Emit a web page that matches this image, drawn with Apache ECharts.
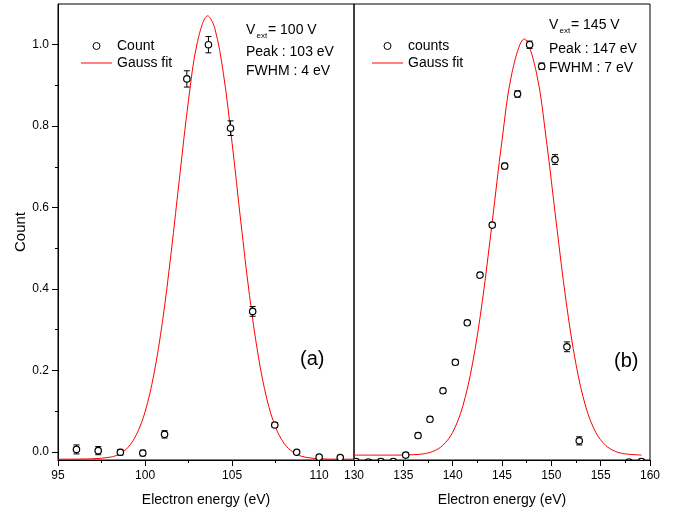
<!DOCTYPE html>
<html>
<head>
<meta charset="utf-8">
<script src="https://cdn.jsdelivr.net/npm/echarts@6/dist/echarts.min.js"></script>
<style>
  html, body { margin: 0; padding: 0; background: #fff; }
  #chart { width: 684px; height: 512px; }
</style>
</head>
<body>
<div id="chart"></div>
<script>
// Panel (a): V_ext = 100 V — measured counts with error bars
const energyA = [96.06, 97.31, 98.58, 99.87, 101.12, 102.40, 103.64, 104.91, 106.18, 107.45, 108.71, 110.00, 111.21];
const countA  = [0.006, 0.003, -0.001, -0.003, 0.043, 0.916, 1.000, 0.795, 0.345, 0.066, -0.001, -0.013, -0.014];
const errA    = [0.011, 0.010, 0.007, 0.007, 0.009, 0.020, 0.020, 0.018, 0.012, 0.006, 0.004, 0.004, 0.004];

// Panel (a): Gauss fit curve
const fitEnergyA = [95, 97, 98, 98.5, 99, 99.5, 100, 100.5, 101, 101.5, 102, 102.5, 103, 103.6, 104, 104.5, 105, 105.5, 106, 106.5, 107, 107.5, 108, 108.5, 109, 109.5, 110, 111, 112];
const fitCountA  = [-0.018, -0.017, -0.013, -0.006, 0.010, 0.042, 0.098, 0.189, 0.320, 0.490, 0.681, 0.865, 1.005, 1.071, 1.041, 0.929, 0.758, 0.565, 0.384, 0.236, 0.129, 0.060, 0.020, -0.001, -0.011, -0.015, -0.017, -0.018, -0.018];

// Panel (b): V_ext = 145 V — measured counts with error bars
const energyB = [130.20, 131.46, 132.72, 133.98, 135.24, 136.49, 137.70, 139.02, 140.27, 141.48, 142.77, 144.01, 145.27, 146.58, 147.80, 149.02, 150.37, 151.58, 152.83, 157.87, 159.13];
const countB  = [-0.024, -0.025, -0.024, -0.024, -0.008, 0.040, 0.080, 0.150, 0.220, 0.317, 0.434, 0.557, 0.702, 0.879, 1.000, 0.947, 0.718, 0.258, 0.027, -0.025, -0.024];
const errB    = [0.006, 0.006, 0.006, 0.006, 0.006, 0.006, 0.006, 0.006, 0.006, 0.006, 0.006, 0.006, 0.007, 0.008, 0.009, 0.008, 0.012, 0.012, 0.010, 0.006, 0.006];

// Panel (b): Gauss fit curve
const fitEnergyB = [130, 134, 136, 137, 138, 139, 140, 141, 142, 143, 144, 145, 146, 147.25, 148.5, 149.5, 150.5, 151.5, 152.5, 153.5, 154.5, 155.5, 156.5, 157.5, 158.5, 159.15];
const fitCountB  = [-0.008, -0.008, -0.007, -0.005, 0.001, 0.016, 0.048, 0.110, 0.215, 0.369, 0.563, 0.765, 0.930, 1.014, 0.930, 0.765, 0.563, 0.369, 0.215, 0.110, 0.048, 0.016, 0.001, -0.005, -0.007, -0.008];

// Tick positions
const xTicksA = [95, 100, 105, 110];
const xMinorA = [97.5, 102.5, 107.5];
const xTicksB = [130, 135, 140, 145, 150, 155, 160];
const xMinorB = [132.5, 137.5, 142.5, 147.5, 152.5, 157.5];
const yTicks  = [0, 0.2, 0.4, 0.6, 0.8, 1.0];
const yMinor  = [0.1, 0.3, 0.5, 0.7, 0.9];

const FONT = 'Liberation Sans, Arial, sans-serif';
const RED = '#ff0000';

const pairs = (xs, ys) => xs.map((x, i) => [x, ys[i]]);
const triples = (xs, ys, es) => xs.map((x, i) => [x, ys[i], es[i]]);

// open circle with a capped vertical error bar
function drawPoint(params, api) {
  const x = api.value(0), y = api.value(1), e = api.value(2);
  const c = api.coord([x, y]);
  const hi = api.coord([x, y + e])[1];
  const lo = api.coord([x, y - e])[1];
  const cap = 3;
  const ink = { stroke: '#000', lineWidth: 1, fill: null };
  return {
    type: 'group',
    children: [
      { type: 'line', shape: { x1: c[0], y1: hi, x2: c[0], y2: lo }, style: ink },
      { type: 'line', shape: { x1: c[0] - cap, y1: hi, x2: c[0] + cap, y2: hi }, style: ink },
      { type: 'line', shape: { x1: c[0] - cap, y1: lo, x2: c[0] + cap, y2: lo }, style: ink },
      { type: 'circle', shape: { cx: c[0], cy: c[1], r: 3.2 }, style: { fill: '#fff', stroke: '#000', lineWidth: 1.2 } }
    ]
  };
}

const Y_MIN = -0.02, Y_MAX = 1.10;

function mainX(grid, min, max, ticks) {
  return {
    type: 'value', gridIndex: grid, position: 'bottom', min: min, max: max,
    name: 'Electron energy (eV)', nameLocation: 'middle', nameGap: 33,
    nameTextStyle: { fontFamily: FONT, fontSize: 14, color: '#000' },
    axisLine: { show: true, onZero: false, lineStyle: { color: '#000', width: 1 } },
    axisTick: { show: true, inside: false, length: 6, customValues: ticks, lineStyle: { color: '#000' } },
    axisLabel: { show: true, customValues: ticks, margin: 10, fontFamily: FONT, fontSize: 12, color: '#000' },
    splitLine: { show: false }
  };
}
function minorX(grid, min, max, ticks) {
  return {
    type: 'value', gridIndex: grid, position: 'bottom', min: min, max: max,
    axisLine: { show: false, onZero: false },
    axisTick: { show: true, inside: false, length: 3, customValues: ticks, lineStyle: { color: '#000' } },
    axisLabel: { show: false },
    splitLine: { show: false }
  };
}

// legend entries: open circle for the counts, plain red stroke for the fit
const LINE_ICON = 'path://M0,0H62V2H0Z';
function legendBlock(left, countName) {
  return {
    orient: 'vertical', left: left, top: 39, padding: 0,
    itemWidth: 31, itemHeight: 7, itemGap: 3, symbolKeepAspect: true,
    selectedMode: false,
    textStyle: { fontFamily: FONT, fontSize: 14, color: '#000' },
    data: [
      { name: countName, icon: 'circle', itemStyle: { color: '#fff', borderColor: '#000', borderWidth: 1 } },
      { name: 'Gauss fit', icon: LINE_ICON, itemStyle: { color: RED, borderWidth: 0 } }
    ]
  };
}

const option = {
  animation: false,
  backgroundColor: '#fff',
  grid: [
    { left: 58, top: 4, width: 296, height: 456, show: true, borderColor: '#000', borderWidth: 1, backgroundColor: 'transparent' },
    { left: 354, top: 4, width: 296, height: 456, show: true, borderColor: '#000', borderWidth: 1, backgroundColor: 'transparent' }
  ],
  xAxis: [
    mainX(0, 95, 112, xTicksA),
    minorX(0, 95, 112, xMinorA),
    mainX(1, 130, 160, xTicksB),
    minorX(1, 130, 160, xMinorB)
  ],
  yAxis: [
    {
      type: 'value', gridIndex: 0, position: 'left', min: Y_MIN, max: Y_MAX,
      name: 'Count', nameLocation: 'middle', nameGap: 30,
      nameTextStyle: { fontFamily: FONT, fontSize: 15, color: '#000' },
      axisLine: { show: true, onZero: false, lineStyle: { color: '#000', width: 1 } },
      axisTick: { show: true, inside: false, length: 6, customValues: yTicks, lineStyle: { color: '#000' } },
      axisLabel: { show: true, customValues: yTicks, margin: 9, fontFamily: FONT, fontSize: 12, color: '#000',
                   formatter: v => v.toFixed(1) },
      splitLine: { show: false }
    },
    {
      type: 'value', gridIndex: 0, position: 'left', min: Y_MIN, max: Y_MAX,
      axisLine: { show: false, onZero: false },
      axisTick: { show: true, inside: false, length: 3, customValues: yMinor, lineStyle: { color: '#000' } },
      axisLabel: { show: false },
      splitLine: { show: false }
    },
    {
      type: 'value', gridIndex: 1, min: Y_MIN, max: Y_MAX, show: false
    }
  ],
  legend: [legendBlock(81, 'Count'), legendBlock(372, 'counts')],
  series: [
    {
      name: 'Gauss fit', type: 'line', xAxisIndex: 0, yAxisIndex: 0,
      data: pairs(fitEnergyA, fitCountA), smooth: 0.35, symbol: 'none', z: 2,
      color: RED, lineStyle: { color: RED, width: 1 }
    },
    {
      name: 'Count', type: 'custom', xAxisIndex: 0, yAxisIndex: 0, clip: true, z: 3,
      data: triples(energyA, countA, errA), encode: { x: 0, y: 1 }, renderItem: drawPoint
    },
    {
      name: 'Gauss fit', type: 'line', xAxisIndex: 2, yAxisIndex: 2,
      data: pairs(fitEnergyB, fitCountB), smooth: 0.35, symbol: 'none', z: 2,
      color: RED, lineStyle: { color: RED, width: 1 }
    },
    {
      name: 'counts', type: 'custom', xAxisIndex: 2, yAxisIndex: 2, clip: true, z: 3,
      data: triples(energyB, countB, errB), encode: { x: 0, y: 1 }, renderItem: drawPoint
    }
  ],
  graphic: [
    // panel (a) annotations
    { type: 'text', x: 246, y: 30, style: { text: 'V', fontFamily: FONT, fontSize: 14, fill: '#000', verticalAlign: 'middle' } },
    { type: 'text', x: 256.5, y: 35.5, style: { text: 'ext', fontFamily: FONT, fontSize: 8, fill: '#000', verticalAlign: 'middle' } },
    { type: 'text', x: 268, y: 30, style: { text: '= 100 V', fontFamily: FONT, fontSize: 14, fill: '#000', verticalAlign: 'middle' } },
    { type: 'text', x: 246, y: 52, style: { text: 'Peak : 103 eV', fontFamily: FONT, fontSize: 14, fill: '#000', verticalAlign: 'middle' } },
    { type: 'text', x: 246, y: 71, style: { text: 'FWHM : 4 eV', fontFamily: FONT, fontSize: 14, fill: '#000', verticalAlign: 'middle' } },
    { type: 'text', x: 300, y: 359, style: { text: '(a)', fontFamily: FONT, fontSize: 20, fill: '#000', verticalAlign: 'middle' } },
    // panel (b) annotations
    { type: 'text', x: 549, y: 25, style: { text: 'V', fontFamily: FONT, fontSize: 14, fill: '#000', verticalAlign: 'middle' } },
    { type: 'text', x: 559.5, y: 30.5, style: { text: 'ext', fontFamily: FONT, fontSize: 8, fill: '#000', verticalAlign: 'middle' } },
    { type: 'text', x: 571, y: 25, style: { text: '= 145 V', fontFamily: FONT, fontSize: 14, fill: '#000', verticalAlign: 'middle' } },
    { type: 'text', x: 549, y: 49, style: { text: 'Peak : 147 eV', fontFamily: FONT, fontSize: 14, fill: '#000', verticalAlign: 'middle' } },
    { type: 'text', x: 549, y: 68, style: { text: 'FWHM : 7 eV', fontFamily: FONT, fontSize: 14, fill: '#000', verticalAlign: 'middle' } },
    { type: 'text', x: 614, y: 361, style: { text: '(b)', fontFamily: FONT, fontSize: 20, fill: '#000', verticalAlign: 'middle' } }
  ]
};

const chart = echarts.init(document.getElementById('chart'), null, { renderer: 'canvas' });
chart.setOption(option);
</script>
</body>
</html>
